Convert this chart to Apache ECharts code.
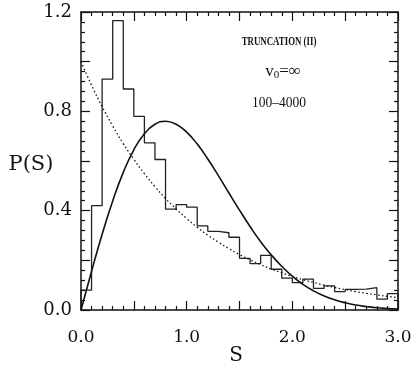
<!DOCTYPE html>
<html>
<head>
<meta charset="utf-8">
<script src="https://cdn.jsdelivr.net/npm/echarts@6/dist/echarts.min.js"></script>
<style>
html,body{margin:0;padding:0;background:#fff;}
#c{width:415px;height:373px;}
</style>
</head>
<body>
<div id="c"></div>
<script>
// Histogram bin edges (width 0.1) and heights
var binEdges = [0.0,0.1,0.2,0.3,0.4,0.5,0.6,0.7,0.8,0.9,1.0,1.1,1.2,1.3,1.4,1.5,1.6,1.7,1.8,1.9,2.0,2.1,2.2,2.3,2.4,2.5,2.6,2.7,2.8,2.9,3.0];
var binHeights = [0.08,0.42,0.93,1.165,0.89,0.78,0.673,0.606,0.406,0.424,0.414,0.339,0.317,0.311,0.293,0.208,0.187,0.22,0.164,0.128,0.11,0.124,0.087,0.097,0.074,0.083,0.084,0.09,0.044,0.066];

// Smooth curves
var curveS = [0.0,0.1,0.2,0.3,0.4,0.5,0.6,0.7,0.8,0.9,1.0,1.1,1.2,1.3,1.4,1.5,1.6,1.7,1.8,1.9,2.0,2.1,2.2,2.3,2.4,2.5,2.6,2.7,2.8,2.9,3.0];
var solidCurve = [0.0,0.156,0.305,0.439,0.554,0.645,0.710,0.748,0.760,0.748,0.716,0.668,0.608,0.541,0.471,0.402,0.336,0.275,0.222,0.176,0.136,0.103,0.077,0.057,0.041,0.029,0.020,0.014,0.009,0.006,0.004];
var dottedCurve = [1.0,0.905,0.819,0.741,0.670,0.607,0.549,0.497,0.449,0.407,0.368,0.333,0.301,0.273,0.247,0.223,0.202,0.183,0.165,0.150,0.135,0.122,0.111,0.100,0.091,0.082,0.074,0.067,0.061,0.055,0.050];

var xTickLabels = ['0.0','1.0','2.0','3.0'];
var yTickLabels = ['0.0','0.4','0.8','1.2'];

var histPts = [[binEdges[0], 0]];
for (var i = 0; i < binHeights.length; i++) {
  histPts.push([binEdges[i], binHeights[i]]);
  histPts.push([binEdges[i+1], binHeights[i]]);
}
histPts.push([binEdges[binEdges.length-1], 0]);

function pairs(xs, ys){ return xs.map(function(x,i){return [x, ys[i]];}); }

var FONT = '"DejaVu Serif", "Liberation Serif", serif';
var axisCommon = {
  type: 'value',
  axisLine: {show: true, onZero: false, lineStyle: {color: '#111', width: 1.5}},
  axisTick: {show: true, inside: true, length: 9, lineStyle: {color: '#111', width: 1.2}},
  minorTick: {show: true, splitNumber: 5, length: 4, lineStyle: {color: '#111', width: 1.2}},
  splitLine: {show: false},
  minorSplitLine: {show: false}
};
function mk(extra){ return Object.assign({}, JSON.parse(JSON.stringify(axisCommon)), extra); }

var chart = echarts.init(document.getElementById('c'), null, {renderer: 'canvas'});
chart.setOption({
  backgroundColor: '#fff',
  animation: false,
  grid: {left: 81, right: 17, top: 12, bottom: 63},
  xAxis: [
    mk({min: 0, max: 3, interval: 0.5, position: 'bottom',
      axisLabel: {show: true, margin: 19, color: '#111', fontSize: 17, fontFamily: FONT,
        formatter: function(v){ var s = v.toFixed(1); return xTickLabels.indexOf(s) >= 0 ? s : ''; }}}),
    mk({min: 0, max: 3, interval: 0.5, position: 'top', axisLabel: {show: false}})
  ],
  yAxis: [
    mk({min: 0, max: 1.2, interval: 0.2, position: 'left',
      axisLabel: {show: true, margin: 9, color: '#111', fontSize: 18, fontFamily: FONT,
        formatter: function(v){ var s = v.toFixed(1); return yTickLabels.indexOf(s) >= 0 ? s : ''; }}}),
    mk({min: 0, max: 1.2, interval: 0.2, position: 'right', axisLabel: {show: false}})
  ],
  series: [
    {type: 'line', data: histPts, symbol: 'none', lineStyle: {color: '#222', width: 1.3}, z: 3},
    {type: 'line', data: pairs(curveS, solidCurve), smooth: true, symbol: 'none', lineStyle: {color: '#111', width: 1.6}, z: 4},
    {type: 'line', data: pairs(curveS, dottedCurve), smooth: true, symbol: 'none', lineStyle: {color: '#111', width: 1.3, type: [1.5, 2.5]}, z: 4}
  ],
  graphic: [
    {type: 'text', x: 279, y: 42, scaleX: 0.68, style: {text: 'TRUNCATION (II)', x: 0, y: 0, textAlign: 'center', textVerticalAlign: 'middle', font: '600 13px "Liberation Serif"', fill: '#111'}},
    {type: 'text', x: 283, y: 72, style: {x: 0, y: 0, textAlign: 'center', textVerticalAlign: 'middle',
      text: '{a|v}{s|0}{a|=∞}',
      rich: {a: {fontSize: 17, fontFamily: '"Liberation Serif"', color: '#111'}, s: {fontSize: 11, fontFamily: '"Liberation Serif"', color: '#111', verticalAlign: 'bottom', padding: [7,0,0,0]}},
      fill: '#111'}},
    {type: 'text', x: 279, y: 103, scaleX: 0.9, style: {text: '100–4000', x: 0, y: 0, textAlign: 'center', textVerticalAlign: 'middle', font: '15px "Liberation Serif"', fill: '#111'}},
    {type: 'text', x: 31, y: 165, style: {text: 'P(S)', x: 0, y: 0, textAlign: 'center', textVerticalAlign: 'middle', font: '21px ' + FONT, fill: '#111'}},
    {type: 'text', x: 236, y: 356, style: {text: 'S', x: 0, y: 0, textAlign: 'center', textVerticalAlign: 'middle', font: '20px ' + FONT, fill: '#111'}}
  ]
});
</script>
</body>
</html>
